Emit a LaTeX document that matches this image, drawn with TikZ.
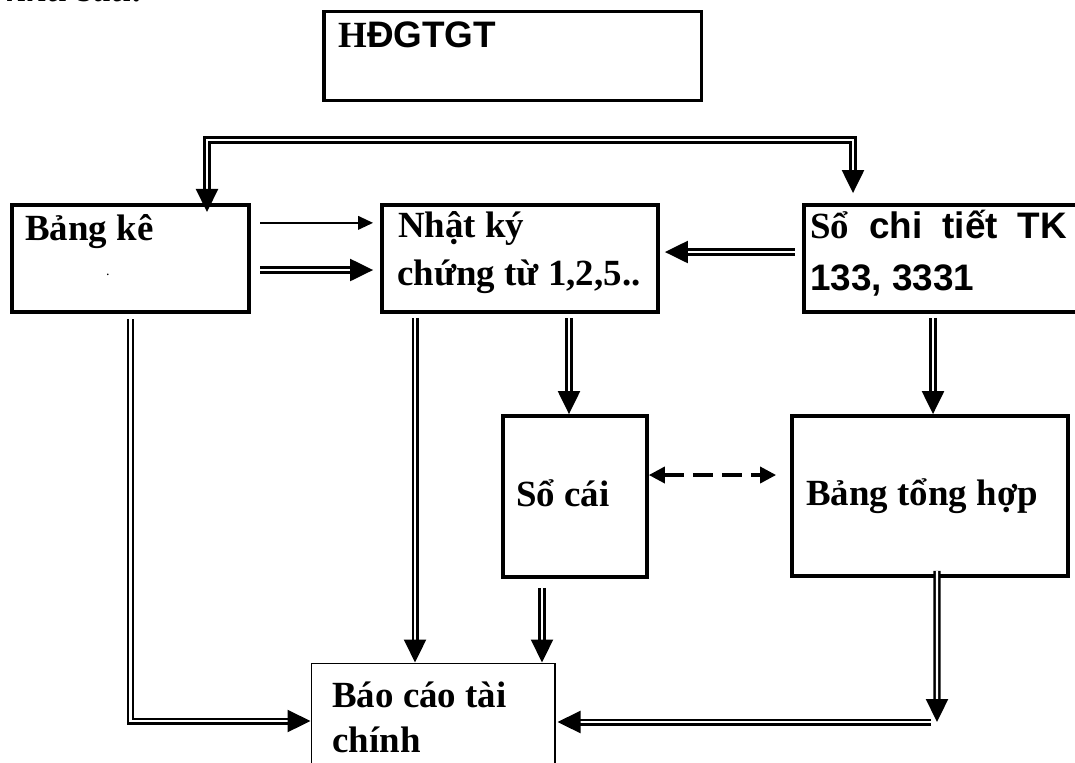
\documentclass[tikz,border=0pt]{standalone}
\usepackage{fontspec}
\setmainfont{Liberation Serif}
\newfontfamily\arialf{Liberation Sans}
\usetikzlibrary{arrows.meta}

\begin{document}
\begin{tikzpicture}[
  x=0.02cm,
  y=-0.02cm,
  every node/.style={font=\bfseries\fontsize{21pt}{25pt}\selectfont, black},
  bigtip/.tip={Triangle[length=0.46cm, width=0.44cm]},
  smalltip/.tip={Triangle[length=0.3cm, width=0.27cm]},
  dashtip/.tip={Triangle[length=0.32cm, width=0.32cm]},
  box/.style={draw, line width=2.2pt, inner sep=0pt},
  thinbox/.style={draw, line width=0.6pt, inner sep=0pt},
  txt/.style={anchor=base west, inner sep=0pt},
  dbl/.style={double, line width=1.3pt, double distance=1.4pt, -bigtip},
  single/.style={line width=1.2pt, -smalltip},
  dashlink/.style={line width=2pt, dash pattern=on 0.4cm off 0.18cm, dashtip-dashtip}
]
  \useasboundingbox (0,0) rectangle (1075,762);

  % ---- leading words of the page, cut by the top edge ------------------
  \node[txt, font=\bfseries\itshape\fontsize{21pt}{25pt}\selectfont] (intro) at (6,1) {như sau:};

  % ---- boxes -------------------------------------------------------------
  \node[box, minimum width=7.55cm, minimum height=1.78cm] (hd) at (512.75,56) {};
  \node[box, minimum width=4.75cm, minimum height=2.15cm] (bangke) at (130.35,258.35) {};
  \node[box, minimum width=5.52cm, minimum height=2.14cm] (nhatky) at (520,258.5) {};
  \node[box, minimum width=5.49cm, minimum height=2.14cm] (sochitiet) at (940.85,258.5) {};
  \node[box, minimum width=2.87cm, minimum height=3.22cm] (socai) at (575.15,496.5) {};
  \node[box, minimum width=5.52cm, minimum height=3.2cm] (tonghop) at (930,496) {};
  \node[thinbox, minimum width=4.88cm, minimum height=2.54cm] (baocao) at (433,726.5) {};

  % ---- texts -------------------------------------------------------------
  \node[txt] (hdtext) at (338,47) {H{\arialf ĐGTGT}};
  \node[txt] (bktext) at (25,240) {Bảng kê};
  \node[inner sep=0pt, font=\fontsize{8pt}{8pt}\selectfont] (bkdot) at (108,275) {.};
  \node[txt] (nktext) at (398,237) {Nhật ký};
  \node[txt] (nktext2) at (397,285) {chứng từ 1,2,5..};
  \node[txt] (cttext) at (810,238)
    {Sổ\hspace{0.4cm}{\arialf chi\hspace{0.4cm}tiết\hspace{0.4cm}TK}};
  \node[txt] (cttext2) at (810,290) {\arialf 133, 3331};
  \node[txt] (sctext) at (516,506) {Sổ cái};
  \node[txt] (thtext) at (806,505) {Bảng tổng hợp};
  \node[txt] (bctext) at (332,707) {Báo cáo tài};
  \node[txt] (bctext2) at (332,752) {chính};

  % ---- invoice to the two first books ------------------------------------
  \coordinate (busL) at (207,140);
  \coordinate (busR) at (853,140);
  \draw[dbl, bigtip-bigtip, shorten <=-0.186cm, shorten >=0.2cm]
    (bangke.north -| busL) -- (busL) -- (busR) -- (sochitiet.north -| busR);

  % ---- into the journal --------------------------------------------------
  \draw[single, shorten <=0.18cm, shorten >=0.14cm]
    ([yshift=0.71cm]bangke.east) -- ([yshift=0.71cm]bangke.east -| nhatky.west);
  \draw[dbl, shorten <=0.18cm, shorten >=0.14cm]
    ([yshift=-0.233cm]bangke.east) -- ([yshift=-0.233cm]bangke.east -| nhatky.west);
  \draw[dbl, shorten <=0.134cm, shorten >=0.1cm]
    ([yshift=0.13cm]sochitiet.west) -- ([yshift=0.13cm]sochitiet.west -| nhatky.east);

  % ---- down to the ledger and the summary --------------------------------
  \draw[dbl, shorten <=0.08cm]
    ([xshift=0.98cm]nhatky.south) -- ([xshift=0.98cm]nhatky.south |- socai.north);
  \draw[dbl, shorten <=0.08cm]
    ([xshift=-0.157cm]sochitiet.south) -- ([xshift=-0.157cm]sochitiet.south |- tonghop.north);
  \draw[dashlink, shorten >=0.28cm]
    ([yshift=0.43cm]socai.east) -- ([yshift=0.43cm]socai.east -| tonghop.west);

  % ---- into the financial report -----------------------------------------
  \draw[dbl, shorten <=0.1cm]
    (bangke.south) |- ([yshift=0.11cm]baocao.west);
  \draw[dbl, shorten <=0.08cm]
    ([xshift=-2.1cm]nhatky.south) -- ([xshift=-2.1cm]nhatky.south |- baocao.north);
  \draw[dbl, shorten <=0.18cm]
    ([xshift=-0.663cm]socai.south) -- ([xshift=-0.663cm]socai.south |- baocao.north);
  \coordinate (thcorner) at (937,722);
  \draw[dbl, shorten <=-0.14cm]
    ([xshift=0.14cm]tonghop.south) -- (thcorner);
  \draw[dbl, shorten <=0.12cm, shorten >=0.04cm]
    (thcorner) -- (thcorner -| baocao.east);
\end{tikzpicture}
\end{document}
